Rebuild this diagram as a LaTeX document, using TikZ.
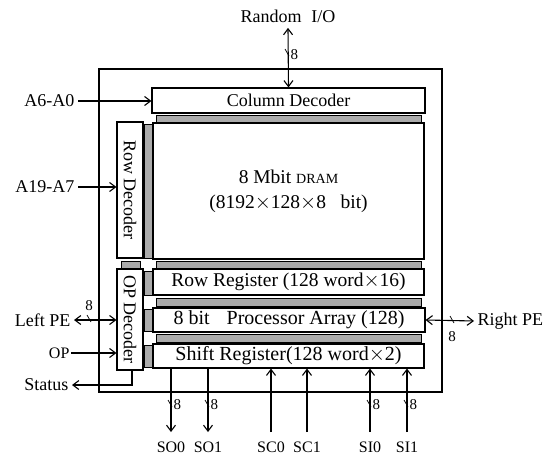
\documentclass[tikz,border=0pt]{standalone}
\usepackage{fontspec}
\setmainfont{Liberation Serif}
\usepackage{graphicx}
\usetikzlibrary{calc, arrows.meta}

\tikzset{
  blk/.style={draw, line width=1.1pt, fill=white, inner sep=0pt, font=\fontsize{18}{22}\selectfont},
  strip/.style={draw, line width=0.6pt, fill=black!33},
  lbl/.style={inner sep=3pt, font=\fontsize{18}{20}\selectfont},
  pinlbl/.style={inner sep=1pt, font=\fontsize{16}{18}\selectfont},
  bus/.style={inner sep=1pt, font=\fontsize{15}{17}\selectfont},
  slash/.style={line width=0.7pt}
}

\begin{document}
\begin{tikzpicture}[x=1pt, y=-1pt, line width=1.1pt, >={Straight Barb[length=6pt,width=9pt]}]

    \useasboundingbox (0,0) rectangle (550,455);

    % 1. The chip frame
    \draw[line width=1.8pt] (99,69) rectangle (442,392);

    % 2. Decoders and the DRAM array
    \node[blk, minimum width=273, minimum height=25] (coldec) at (288.5,100.5) {Column Decoder};
    \node[blk, minimum width=271, minimum height=136, align=center, font=\fontsize{19.5}{22}\selectfont] (dram) at (288.5,191)
        {8 Mbit {\fontsize{14}{15}\selectfont DRAM}\\[3pt](8192$\times$128$\times$8\hspace{0.5em} bit)};
    \node[blk, minimum width=26, minimum height=136] (rowdec) at (130,190) {\rotatebox{-90}{Row Decoder}};
    \node[blk, minimum width=26, minimum height=101] (opdec) at (130,319.5) {\rotatebox{-90}{OP Decoder}};

    % 3. The three register rows under the array
    \node[blk, minimum width=271, minimum height=26, font=\fontsize{19.5}{22}\selectfont] (rowreg) at (288.5,282)
        {Row Register (128 word$\times$16)};
    \node[blk, minimum width=272, minimum height=24, font=\fontsize{20}{22}\selectfont] (proc) at (289,320)
        {8 bit\hspace{0.6em} Processor Array (128)};
    \node[blk, minimum width=271, minimum height=24, font=\fontsize{20}{22}\selectfont] (shift) at (288.5,356)
        {Shift Register(128 word$\times$2)};

    % 4. Shaded wiring strips between the blocks
    \draw[strip] (156,115) rectangle (421,122);
    \draw[strip] (156,261) rectangle (421,268);
    \draw[strip] (156,298) rectangle (421,306);
    \draw[strip] (156,334) rectangle (421,342);
    \draw[strip] (121,261) rectangle (140,268);
    \draw[strip] (144,124) rectangle (152,258);
    \draw[strip] (144,271) rectangle (152,295);
    \draw[strip] (144,309) rectangle (152,331);
    \draw[strip] (144,345) rectangle (152,367);

    % 5. Random I/O on top
    \node[lbl] (rio) at (288,16) {Random\hspace{0.3em} I/O};
    \draw[<->] ([yshift=-2pt]rio.south) -- (coldec.north);
    \draw[slash] (285,49) -- ++(4,7);
    \node[bus, anchor=west] (rio8) at (289,55) {8};

    % 6. Signals on the left side
    \node[lbl, anchor=east] (a6) at (78,101) {A6-A0};
    \draw[->] (a6.east) -- (a6.east -| coldec.west);
    \node[lbl, anchor=east] (a19) at (78,187) {A19-A7};
    \draw[->] (a19.east) -- (a19.east -| rowdec.west);
    \node[lbl, anchor=east] (lpe) at (74,320) {Left PE};
    \draw[<->] (lpe.east) -- (lpe.east -| opdec.west);
    \draw[slash] (87,315) -- ++(4,7);
    \node[bus] (lpe8) at (89,306) {8};
    \node[pinlbl, anchor=east] (op) at (71,353) {OP};
    \draw[->] (op.east) -- (op.east -| opdec.west);
    \node[lbl, anchor=east] (status) at (72,385) {Status};
    \draw[->] ([xshift=2pt]opdec.south) |- (status.east);

    % 7. Right PE
    \node[lbl, anchor=west] (rpe) at (474,321) {Right PE};
    \draw[<->] (proc.east) -- (rpe.west);
    \draw[slash] (450,316) -- ++(4,7);
    \node[bus] (rpe8) at (452,337) {8};

    % 8. Serial ports under the shift register
    \coordinate (tiprow) at (0,432);
    \coordinate (tickrow) at (0,405);
    \foreach \p/\x in {SO0/171, SO1/208, SC0/271, SC1/307, SI0/370, SI1/407}
        \node[pinlbl] (l\p) at (\x,447) {\p};
    \foreach \p in {SO0, SO1}
        \draw[->] (l\p |- shift.south) -- (l\p |- tiprow);
    \foreach \p in {SC0, SC1, SI0, SI1}
        \draw[->] (l\p |- tiprow) -- (l\p |- shift.south);
    \foreach \p in {SO0, SO1, SI0, SI1} {
        \draw[slash] ($(l\p |- tickrow)+(-3,-5)$) -- ++(4,7);
        \node[bus, anchor=west] (n\p) at ($(l\p |- tickrow)+(1,0)$) {8};
    }

\end{tikzpicture}
\end{document}
